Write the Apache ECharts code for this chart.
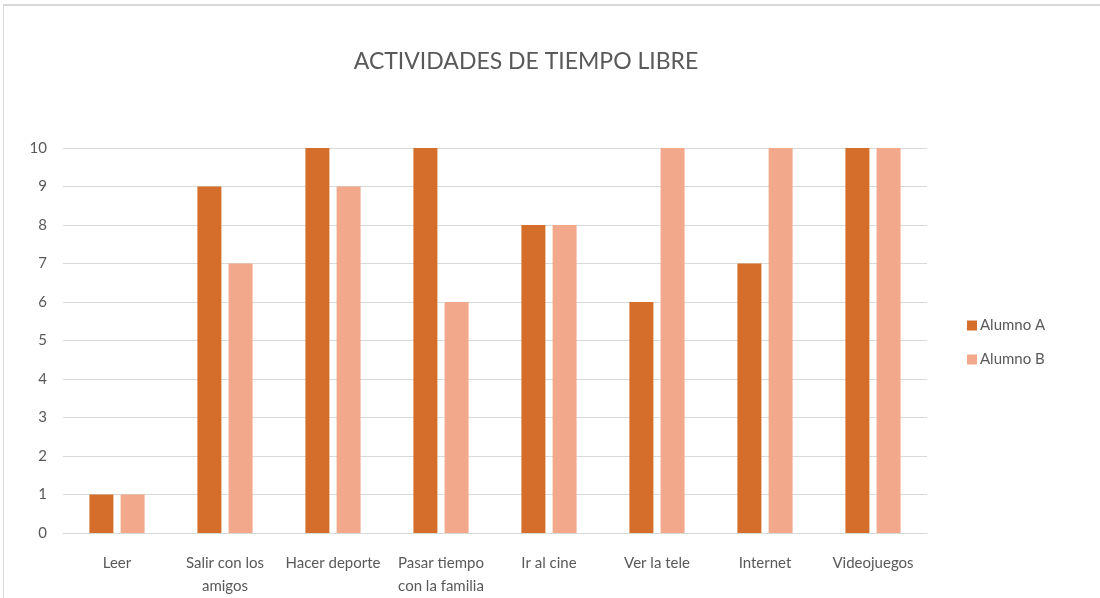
<!DOCTYPE html>
<html lang="es">
<head>
    <meta charset="UTF-8"/>
    <title>Actividades de tiempo libre</title>
    <script src="https://cdn.jsdelivr.net/npm/echarts@6/dist/echarts.min.js"></script>
    <style>
        html, body { margin: 0; padding: 0; background: #fff; }
        #main { width: 1100px; height: 598px; }
    </style>
</head>
<body>
<div id="main"></div>
<script type="text/javascript">
    // datos
    var categorias = ['Leer', 'Salir con los\namigos', 'Hacer deporte', 'Pasar tiempo\ncon la familia',
        'Ir al cine', 'Ver la tele', 'Internet', 'Videojuegos'];
    var alumnoA = [1, 9, 10, 10, 8, 6, 7, 10];
    var alumnoB = [1, 7, 9, 6, 8, 10, 10, 10];

    var myChart = echarts.init(document.getElementById('main'));

    var fuente = 'Lato, "Open Sans", sans-serif';

    var option = {
        animation: false,
        textStyle: { fontFamily: fuente },
        title: {
            text: 'ACTIVIDADES DE TIEMPO LIBRE',
            left: 521,
            textAlign: 'center',
            top: 45,
            textStyle: { color: '#595959', fontSize: 23, fontWeight: 'normal', fontFamily: fuente }
        },
        legend: {
            orient: 'vertical',
            left: 962,
            top: 313,
            itemWidth: 10,
            itemHeight: 10,
            itemGap: 19,
            icon: 'rect',
            textStyle: { color: '#595959', fontSize: 15, fontFamily: fuente, padding: [0, 0, 0, -2] },
            data: ['Alumno A', 'Alumno B']
        },
        grid: { left: 63, right: 173, top: 148, bottom: 60 },
        xAxis: {
            type: 'category',
            data: categorias,
            axisTick: { show: false },
            axisLine: { lineStyle: { color: '#d9d9d9', width: 1 } },
            axisLabel: { color: '#595959', fontSize: 15, margin: 19, lineHeight: 23, interval: 0, fontFamily: fuente }
        },
        yAxis: {
            type: 'value',
            min: 0,
            max: 10,
            interval: 1,
            axisLine: { show: false },
            axisTick: { show: false },
            splitLine: { lineStyle: { color: '#d9d9d9', width: 1 } },
            axisLabel: { color: '#595959', fontSize: 15, margin: 16, fontFamily: fuente }
        },
        graphic: [
            { type: 'line', shape: { x1: 3.5, y1: 5, x2: 3.5, y2: 598 }, style: { stroke: '#d9d9d9', lineWidth: 1 } },
            { type: 'line', shape: { x1: 3, y1: 5, x2: 1100, y2: 5 }, style: { stroke: '#d9d9d9', lineWidth: 2 } }
        ],
        series: [
            {
                name: 'Alumno A',
                type: 'bar',
                data: alumnoA,
                barWidth: 24,
                barGap: '30%',
                itemStyle: { color: '#d46e2a' }
            },
            {
                name: 'Alumno B',
                type: 'bar',
                data: alumnoB,
                barWidth: 24,
                itemStyle: { color: '#f2a88a' }
            }
        ]
    };

    myChart.setOption(option);
</script>
</body>
</html>
